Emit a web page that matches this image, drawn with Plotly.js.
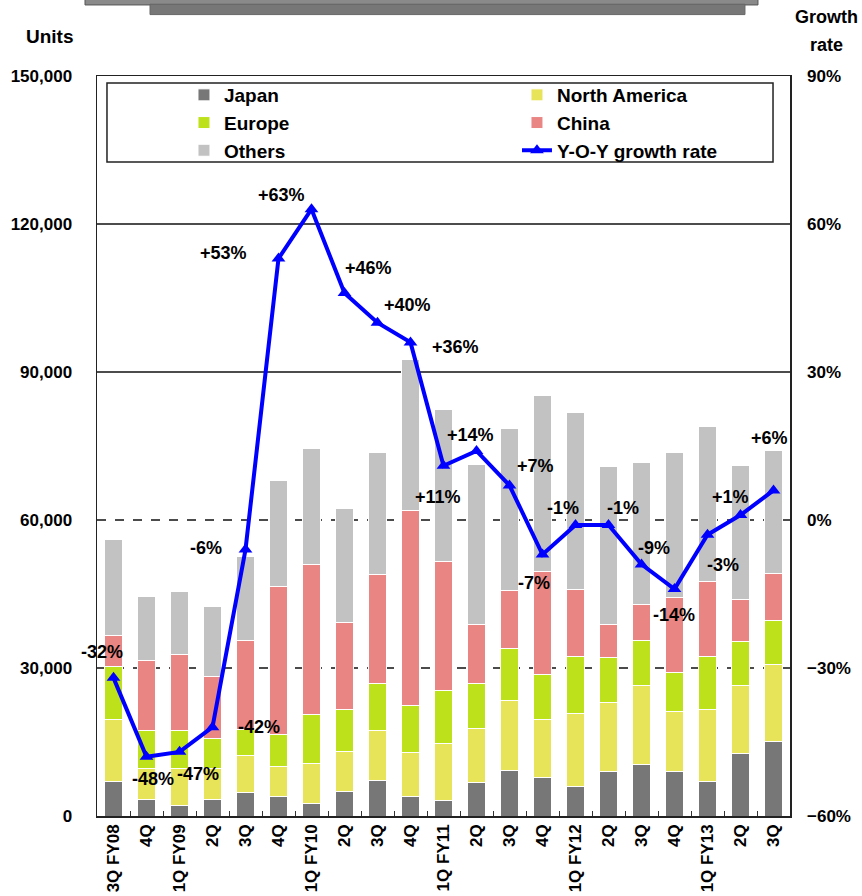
<!DOCTYPE html>
<html>
<head>
<meta charset="utf-8">
<script src="https://cdn.plot.ly/plotly-3.0.1.min.js"></script>
<style>
html,body{margin:0;padding:0;background:#fff;}
#chart{width:862px;height:896px;}
</style>
</head>
<body>
<div id="chart"></div>
<script>
// ---- data ----
const periods = ["3Q FY08","4Q FY08","1Q FY09","2Q FY09","3Q FY09","4Q FY09","1Q FY10","2Q FY10","3Q FY10","4Q FY10","1Q FY11","2Q FY11","3Q FY11","4Q FY11","1Q FY12","2Q FY12","3Q FY12","4Q FY12","1Q FY13","2Q FY13","3Q FY13"];
const tickLabels = ["3Q FY08","4Q","1Q FY09","2Q","3Q","4Q","1Q FY10","2Q","3Q","4Q","1Q FY11","2Q","3Q","4Q","1Q FY12","2Q","3Q","4Q","1Q FY13","2Q","3Q"];
const japan        = [7000,3300,2100,3300,4700,4000,2600,4900,7200,4000,3200,6800,9200,7800,5900,9000,10500,9000,7000,12700,15100];
const northAmerica = [12600,6400,7600,6400,7600,6100,8100,8200,10200,8800,11500,11000,14200,11800,14900,14000,15900,12200,14600,13700,15700];
const europe       = [10700,7700,7700,6000,5300,6500,9900,8400,9500,9500,10800,9100,10500,9000,11500,9200,9100,7900,10800,8900,8900];
const china        = [6200,14100,15400,12500,18000,30000,30400,17700,22000,39600,26100,12000,11900,20900,13600,6700,7300,15100,15200,8600,9500];
const others       = [19600,12900,12700,14200,17100,21400,23400,23100,24800,30600,30800,32400,32800,35800,35900,32000,28900,29400,31300,27200,24900];
const growth       = [-32,-48,-47,-42,-6,53,63,46,40,36,11,14,7,-7,-1,-1,-9,-14,-3,1,6];

// ---- styling ----
const FONT = "Liberation Sans, Arial, sans-serif";
const colors = {japan:"#777777", na:"#e8e45a", europe:"#bde21c", china:"#e98583", others:"#c2c2c2"};
// label offsets (px) for growth-rate annotations
const labelShift = [[-12,26],[6,-22],[18,-22],[46,0],[-40,2],[-55,6],[-30,14],[24,25],[30,18],[45,-5],[-6,-31],[-6,16],[26,19],[-9,-28],[-13,17],[14,17],[12,16],[-1,-26],[15,-30],[-10,18],[-4,52]];

function barTrace(name, y, color){
  return {type:"bar", name:name, x:periods, y:y, width:0.55,
    marker:{color:color, line:{color:"#ffffff", width:1}}, hoverinfo:"name+y"};
}
const traces = [
  barTrace("Japan", japan, colors.japan),
  barTrace("North America", northAmerica, colors.na),
  barTrace("Europe", europe, colors.europe),
  barTrace("China", china, colors.china),
  barTrace("Others", others, colors.others),
  {type:"scatter", mode:"lines+markers", name:"Y-O-Y growth rate", x:periods, y:growth, yaxis:"y2",
   line:{color:"#0000ff", width:4}, marker:{symbol:"triangle-up", size:12, color:"#0000ff"}}
];

const annotations = growth.map((g,i)=>({
  x:periods[i], y:g, xref:"x", yref:"y2", showarrow:false,
  text:(g>0?"+":"")+g+"%", xshift:labelShift[i][0], yshift:labelShift[i][1],
  font:{family:FONT, size:18, color:"#000", weight:"bold"}
}));
annotations.push({xref:"paper", yref:"paper", x:-0.068, y:1.054, xanchor:"center", yanchor:"middle", showarrow:false,
  text:"<b>Units</b>", font:{family:FONT, size:19, color:"#000"}});
annotations.push({xref:"paper", yref:"paper", x:1.052, y:1.0797, xanchor:"center", yanchor:"middle", showarrow:false,
  text:"<b>Growth</b>", font:{family:FONT, size:18, color:"#000"}});
annotations.push({xref:"paper", yref:"paper", x:1.052, y:1.0419, xanchor:"center", yanchor:"middle", showarrow:false,
  text:"<b>rate</b>", font:{family:FONT, size:18, color:"#000"}});

const gridShape = (v, dash) => ({type:"line", xref:"paper", yref:"y", x0:0, x1:1, y0:v, y1:v, layer:"below",
  line:{color:"#111", width:1.5, dash:dash}});

const shapes = [
  gridShape(120000,"solid"), gridShape(90000,"solid"), gridShape(60000,"dash"), gridShape(30000,"dash"),
  // legend box
  {type:"rect", xref:"paper", yref:"paper", x0:0.0144, x1:0.9755, y0:0.8838, y1:0.9905, layer:"below",
   line:{color:"#222", width:1.5}, fillcolor:"rgba(0,0,0,0)"},
  // decorative header bars
  {type:"rect", xref:"paper", yref:"paper", x0:-0.0173, x1:0.9538, y0:1.096, y1:1.105, layer:"above",
   line:{color:"#555", width:1}, fillcolor:"#8a8a8a"},
  {type:"rect", xref:"paper", yref:"paper", x0:0.0765, x1:0.935, y0:1.083, y1:1.097, layer:"above",
   line:{color:"#666", width:1}, fillcolor:"#777777"}
];

const layout = {
  width:862, height:896,
  margin:{l:97, r:72, t:76, b:80},
  paper_bgcolor:"#fff", plot_bgcolor:"#fff",
  barmode:"stack", bargap:0.45,
  showlegend:true,
  legend:{orientation:"h", x:0.1255, y:1.0, xanchor:"left", yanchor:"top",
    entrywidth:288, entrywidthmode:"pixels", bgcolor:"rgba(0,0,0,0)", borderwidth:0,
    font:{family:FONT, size:19, color:"#000", weight:"bold"}, traceorder:"normal"},
  xaxis:{type:"category", tickmode:"array", tickvals:periods, ticktext:tickLabels, tickangle:-90,
    tickson:"boundaries", ticks:"inside", ticklen:5, tickcolor:"#333",
    showline:true, mirror:true, linecolor:"#222", linewidth:1.5, showgrid:false, zeroline:false,
    tickfont:{family:FONT, size:17, color:"#000", weight:"bold"}, range:[-0.5,20.5], fixedrange:true},
  yaxis:{range:[0,150000], dtick:30000, tickformat:",d", showgrid:false, zeroline:false,
    showline:true, mirror:true, linecolor:"#222", linewidth:1.5, ticks:"", ticklabelstandoff:20,
    tickfont:{family:FONT, size:17, color:"#000", weight:"bold"}},
  yaxis2:{overlaying:"y", side:"right", range:[-60,90], dtick:30, ticksuffix:"%", showgrid:false, zeroline:false,
    showline:false, ticks:"", ticklabelstandoff:16,
    tickfont:{family:FONT, size:17, color:"#000", weight:"bold"}},
  annotations:annotations,
  shapes:shapes
};

Plotly.newPlot("chart", traces, layout, {displayModeBar:false, staticPlot:true});
</script>
</body>
</html>
